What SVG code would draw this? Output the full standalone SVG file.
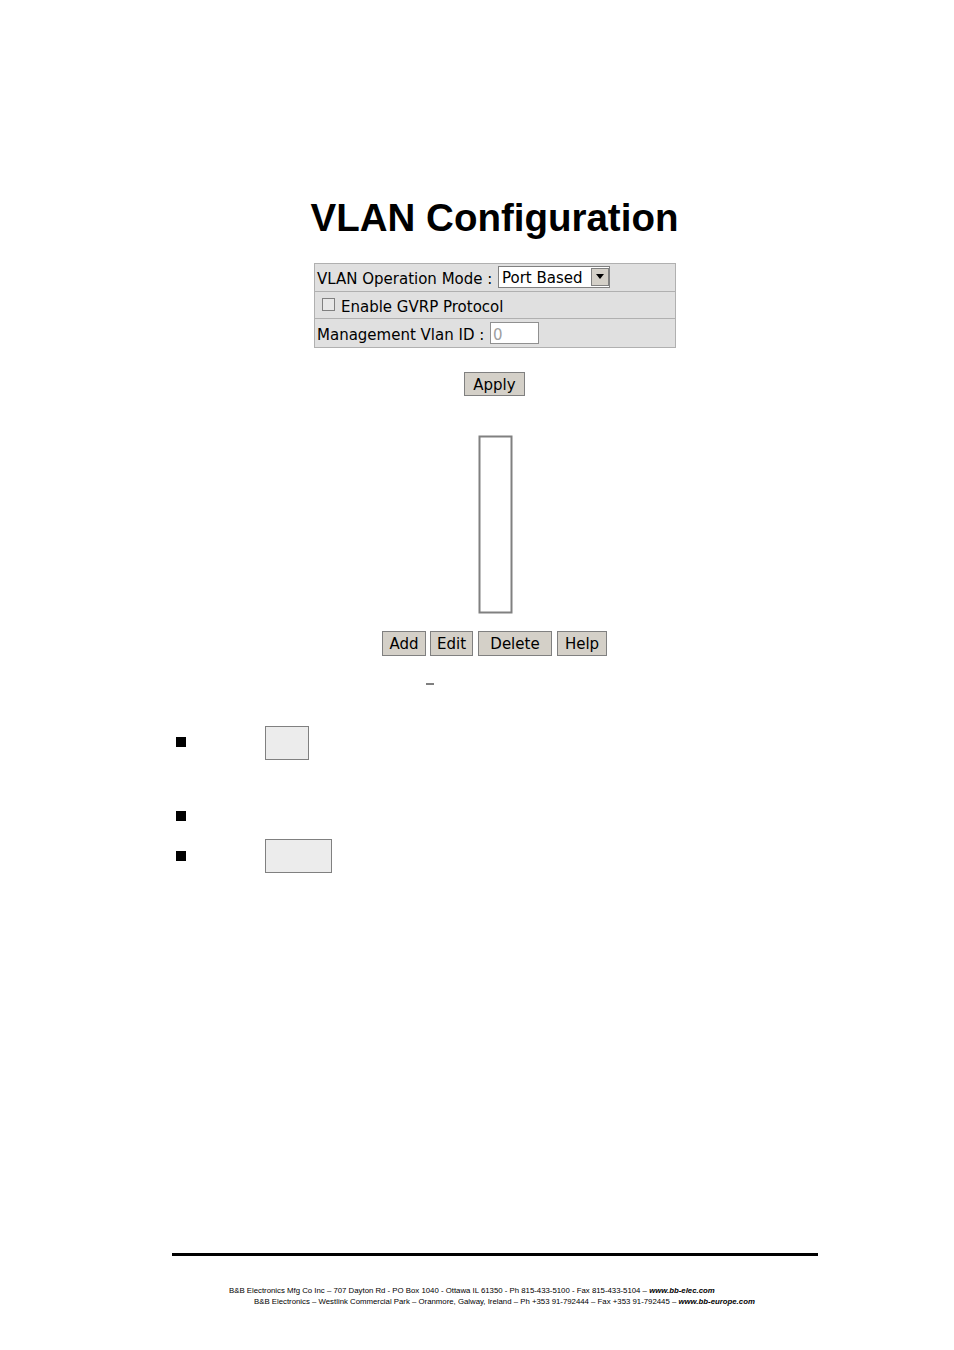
<svg xmlns="http://www.w3.org/2000/svg" width="954" height="1350" viewBox="0 0 954 1350">
<style>
.t{font-family:"DejaVu Sans",sans-serif;font-size:15px;fill:#000}
.btn{fill:#d4d0c8;stroke:#808080;stroke-width:1}
.f{font-family:"Liberation Sans",Arial,sans-serif;font-size:7.8px;fill:#000}
</style>
<rect width="954" height="1350" fill="#fff"/>
<text x="494.5" y="231" text-anchor="middle" font-family="Liberation Sans,Arial,sans-serif" font-weight="bold" font-size="38.5" fill="#000">VLAN Configuration</text>
<g id="form">
<rect x="314.5" y="263.5" width="361" height="84" fill="#e0e0e0" stroke="#b0b0b0"/>
<line x1="315" y1="291.5" x2="675" y2="291.5" stroke="#b0b0b0"/>
<line x1="315" y1="318.5" x2="675" y2="318.5" stroke="#b0b0b0"/>
<text class="t" x="317" y="284">VLAN Operation Mode :</text>
<rect x="498.5" y="266.5" width="111" height="21" fill="#fff" stroke="#808080"/>
<text class="t" x="502" y="283">Port Based</text>
<rect x="591.5" y="268.5" width="17" height="17" fill="#d4d0c8" stroke="#808080"/>
<path d="M596 274 L604 274 L600 279 Z" fill="#000"/>
<rect x="322.5" y="298.5" width="12" height="12" fill="#e8e8e8" stroke="#808080"/>
<text class="t" x="341" y="312">Enable GVRP Protocol</text>
<text class="t" x="317" y="340">Management Vlan ID :</text>
<rect x="490.5" y="322.5" width="48" height="21" fill="#fff" stroke="#909090"/>
<text class="t" x="493" y="340" style="fill:#a0a0a0">0</text>
</g>
<g id="apply"><rect class="btn" x="464.5" y="372.5" width="60" height="23" stroke="#000"/><text class="t" x="494.5" y="390" text-anchor="middle">Apply</text></g>
<g id="list"><rect x="479.5" y="436.5" width="32" height="176" fill="#fff" stroke="#808080" stroke-width="2"/></g>
<g id="add"><rect class="btn" x="382.5" y="631.5" width="43" height="24"/><text class="t" x="404" y="649" text-anchor="middle">Add</text></g>
<g id="edit"><rect class="btn" x="430.5" y="631.5" width="42" height="24"/><text class="t" x="451.5" y="649" text-anchor="middle">Edit</text></g>
<g id="delete"><rect class="btn" x="478.5" y="631.5" width="73" height="24"/><text class="t" x="515" y="649" text-anchor="middle">Delete</text></g>
<g id="help"><rect class="btn" x="557.5" y="631.5" width="49" height="24"/><text class="t" x="582" y="649" text-anchor="middle">Help</text></g>
<line x1="426" y1="684" x2="434" y2="684" stroke="#000"/>
<rect x="176" y="737" width="10" height="10" fill="#000"/>
<rect x="176" y="811" width="10" height="10" fill="#000"/>
<rect x="176" y="851" width="10" height="10" fill="#000"/>
<rect x="265.5" y="726.5" width="43" height="33" fill="#ececec" stroke="#808080"/>
<rect x="265.5" y="839.5" width="66" height="33" fill="#ececec" stroke="#808080"/>
<rect x="172" y="1253" width="646" height="3" fill="#000"/>
<text class="f" x="229" y="1293">B&amp;B Electronics Mfg Co Inc – 707 Dayton Rd - PO Box 1040 - Ottawa IL 61350 - Ph 815-433-5100 - Fax 815-433-5104 – <tspan font-weight="bold" font-style="italic">www.bb-elec.com</tspan></text>
<text class="f" x="254" y="1304">B&amp;B Electronics – Westlink Commercial Park – Oranmore, Galway, Ireland – Ph +353 91-792444 – Fax +353 91-792445 – <tspan font-weight="bold" font-style="italic">www.bb-europe.com</tspan></text>
</svg>
